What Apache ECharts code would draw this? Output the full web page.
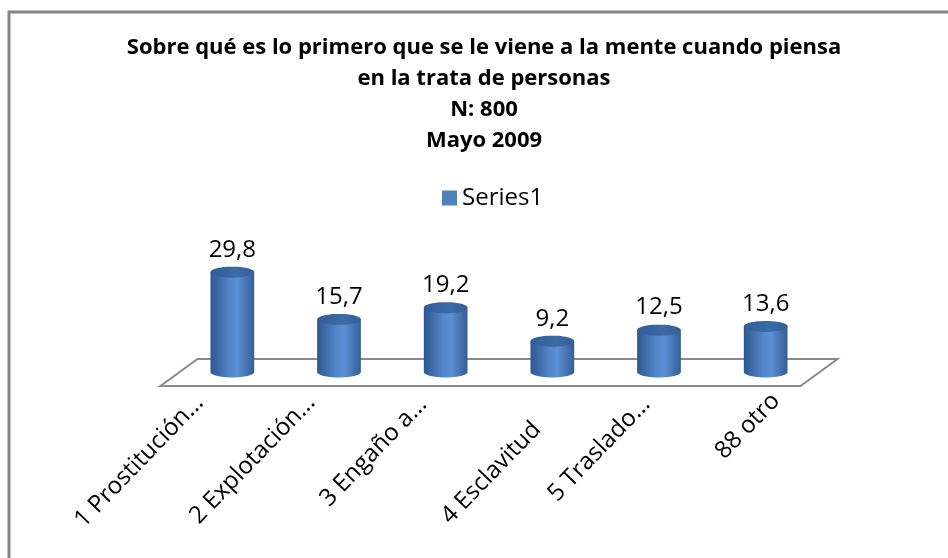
<!DOCTYPE html>
<html>
<head>
<meta charset="utf-8">
<script src="https://cdn.jsdelivr.net/npm/echarts@6/dist/echarts.min.js"></script>
<style>
    html, body { margin: 0; padding: 0; background: #fff; }
    #main { width: 948px; height: 558px; }
</style>
</head>
<body>
<div id="main"></div>
<script>
    const categories = ['1 Prostitución...', '2 Explotación...', '3 Engaño a...', '4 Esclavitud', '5 Traslado...', '88 otro'];
    const values = [29.8, 15.7, 19.2, 9.2, 12.5, 13.6];
    const titleLines = ['Sobre qué es lo primero que se le viene a la mente cuando piensa', 'en la trata de personas', 'N: 800', 'Mayo 2009'];
    const seriesName = 'Series1';

    const FONT = '"Open Sans", Lato, sans-serif';
    // screen nudges [dx, dy] for the slanted category labels (layout only)
    const labelNudge = [[-5, -2], [0, -2], [5, 0], [12, 25], [15, 0], [38, -3]];

    let chart = echarts.init(document.getElementById('main'));

    let labelRich = {};
    labelNudge.forEach(function (n, i) {
        let a = (n[0] - n[1]) / Math.SQRT2;   // along the text
        let b = (n[0] + n[1]) / Math.SQRT2;   // across the text
        labelRich['l' + i] = {
            fontFamily: FONT,
            fontSize: 24,
            color: '#000',
            padding: [b > 0 ? 2 * b : 0, 40 - a, b < 0 ? -2 * b : 0, 0]
        };
    });

    // cylinder: side body + top ellipse, built from axis coords
    function cylinder(params, api) {
        let base = api.coord([api.value(0), 0]);
        let top = api.coord([api.value(0), api.value(1)]);
        let w = api.size([1, 0])[0] * 0.41;
        let rx = w / 2, ry = 5.5, cx = base[0];
        let body = [[cx - rx, top[1]], [cx - rx, base[1]]];
        for (let i = 1; i < 24; i++) {
            let a = Math.PI - Math.PI * i / 24;
            body.push([cx + rx * Math.cos(a), base[1] + ry * Math.sin(a)]);
        }
        body.push([cx + rx, base[1]], [cx + rx, top[1]]);
        let lid = [];
        for (let i = 0; i < 48; i++) {
            let a = 2 * Math.PI * i / 48;
            lid.push([cx + rx * Math.cos(a), top[1] + ry * Math.sin(a)]);
        }
        return {
            type: 'group',
            children: [
                {
                    type: 'polygon',
                    shape: {points: body},
                    style: {
                        fill: new echarts.graphic.LinearGradient(0, 0, 1, 0, [
                            {offset: 0, color: '#2d5790'},
                            {offset: 0.45, color: '#5487cc'},
                            {offset: 0.62, color: '#5c90d6'},
                            {offset: 1, color: '#335d96'}
                        ])
                    }
                },
                {
                    type: 'polygon',
                    shape: {points: lid},
                    style: {
                        fill: new echarts.graphic.LinearGradient(0, 0, 1, 0, [
                            {offset: 0, color: '#315d97'},
                            {offset: 0.6, color: '#3d6ba6'},
                            {offset: 1, color: '#335e97'}
                        ])
                    }
                },
                {
                    type: 'text',
                    x: cx,
                    y: top[1] - ry - 5,
                    style: {
                        text: String(api.value(1)).replace('.', ','),
                        fill: '#000',
                        fontSize: 24,
                        fontFamily: FONT,
                        align: 'center',
                        verticalAlign: 'bottom'
                    }
                }
            ]
        };
    }

    // floor parallelogram under the bars, from the grid rect
    function floor(params, api) {
        let g = params.coordSys;
        let yb = g.y + g.height;
        let d = 18.5;
        return {
            type: 'polygon',
            shape: {
                points: [
                    [g.x + d, yb - 13],
                    [g.x + g.width + d, yb - 13],
                    [g.x + g.width - d, yb + 14],
                    [g.x - d, yb + 14]
                ]
            },
            style: {fill: '#fff', stroke: '#8a8a8a', lineWidth: 2}
        };
    }

    chart.setOption({
        animation: false,
        title: {
            text: titleLines.join('\n'),
            left: 484,
            top: 32,
            padding: 0,
            textAlign: 'center',
            textStyle: {
                fontFamily: FONT,
                fontSize: 22,
                fontWeight: 'bold',
                lineHeight: 31,
                color: '#000'
            }
        },
        legend: {
            data: [{name: seriesName, icon: 'rect'}],
            left: 442,
            top: 186,
            padding: 0,
            itemWidth: 15,
            itemHeight: 15,
            itemGap: 6,
            textStyle: {fontFamily: FONT, fontSize: 24, color: '#000'}
        },
        graphic: [
            {type: 'line', shape: {x1: 8, y1: 12, x2: 948, y2: 12}, style: {stroke: '#868686', lineWidth: 3}},
            {type: 'line', shape: {x1: 9, y1: 11, x2: 9, y2: 558}, style: {stroke: '#868686', lineWidth: 3}}
        ],
        grid: {left: 179, right: 129, top: 238, bottom: 186},
        xAxis: {
            type: 'category',
            data: categories,
            axisLine: {show: false},
            axisTick: {show: false},
            axisLabel: {
                rotate: 46,
                interval: 0,
                margin: 0,
                fontFamily: FONT,
                fontSize: 24,
                color: '#000',
                formatter: function (value, index) {
                    return '{l' + index + '|' + value + '}';
                },
                rich: labelRich
            }
        },
        yAxis: {
            type: 'value',
            min: 0,
            max: 40,
            show: false
        },
        series: [
            {
                type: 'custom',
                data: [[0]],
                renderItem: floor,
                silent: true,
                z: 1
            },
            {
                name: seriesName,
                type: 'custom',
                data: values.map((v, i) => [i, v]),
                renderItem: cylinder,
                itemStyle: {color: '#4f81bd'},
                z: 2
            }
        ]
    });
</script>
</body>
</html>
